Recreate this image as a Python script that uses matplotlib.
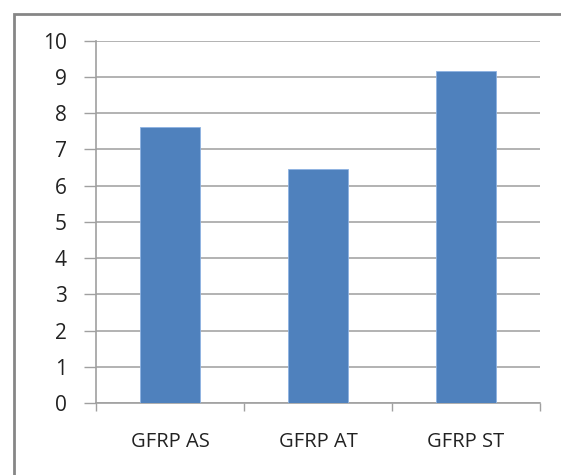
import matplotlib
matplotlib.use("Agg")
import matplotlib.pyplot as plt
from matplotlib.patches import Rectangle

# data
categories = ["GFRP AS", "GFRP AT", "GFRP ST"]
values = [7.63, 6.45, 9.17]
yticks = list(range(0, 11))

plt.rcParams['font.family'] = ['Open Sans', 'DejaVu Sans']

fig = plt.figure(figsize=(5.61, 4.75), dpi=100)
ax = fig.add_axes([96 / 561, 72 / 475, 444 / 561, 362.3 / 475])

x = list(range(len(categories)))
ax.bar(x, values, width=0.4, color="#4F81BD", edgecolor="#8DB3E2", linewidth=0.6, zorder=3)

ax.set_xlim(-0.5, len(categories) - 0.5)
ax.set_ylim(0, 10)
ax.set_yticks(yticks)
ax.set_yticklabels([str(t) for t in yticks], fontsize=15, color="#222222")
ax.tick_params(axis="y", length=9, width=1, color="#A0A0A0", pad=12)

# category labels centred, ticks on boundaries
ax.set_xticks(x)
ax.set_xticklabels(categories, fontsize=14.5, color="#222222")
ax.tick_params(axis="x", length=0, pad=21)
ax.set_xticks([-0.5, 0.5, 1.5, 2.5], minor=True)
ax.tick_params(axis="x", which="minor", length=6, width=1, color="#A0A0A0")

ax.grid(axis="y", color="#A6A6A6", linewidth=1.2, zorder=0)
ax.set_axisbelow(True)
for s in ["top", "right"]:
    ax.spines[s].set_visible(False)
ax.spines["left"].set_color("#A0A0A0")
ax.spines["bottom"].set_color("#A0A0A0")
ax.spines["left"].set_linewidth(1.2)
ax.spines["bottom"].set_linewidth(1.2)

# outer chart border (runs off right and bottom)
fig.patches.append(Rectangle((14 / 561, -0.05), 1.1, (475 - 14) / 475 + 0.05,
                             transform=fig.transFigure, fill=False,
                             edgecolor="#868686", linewidth=2))

fig.savefig("out.png", dpi=100)
